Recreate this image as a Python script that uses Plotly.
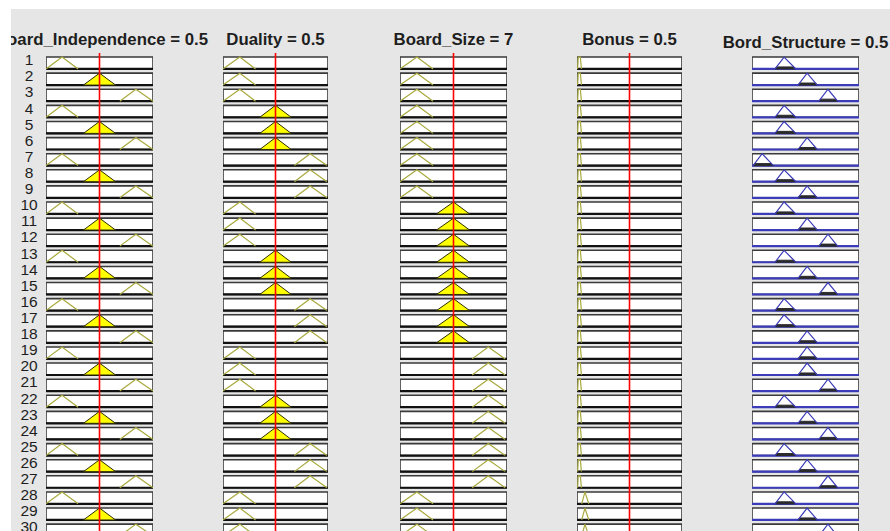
import plotly.graph_objects as go

W, H = 890, 531

# ---------------- data ----------------
rows = list(range(1, 31))

var_names = ["Board_Independence", "Duality", "Board_Size", "Bonus", "Bord_Structure"]
var_values = [0.5, 0.5, 7, 0.5, 0.5]
var_ranges = [[0, 1], [0, 1], [4, 10], [0, 1], [0, 1]]

# membership functions: 3 points = triangle, 4 points = trapezoid
bi_mfs = {"low": [0.0, 0.15, 0.3], "med": [0.35, 0.5, 0.65], "high": [0.69, 0.84, 1.0]}
du_mfs = {"low": [0.0, 0.16, 0.31], "med": [0.35, 0.5, 0.65], "high": [0.68, 0.83, 0.99]}
bs_mfs = {"low": [4.0, 4.95, 5.85], "med": [6.05, 7.0, 7.9], "high": [8.05, 8.95, 9.9]}
bo_mfs = {"small": [0.006, 0.012, 0.032, 0.042], "large": [0.045, 0.076, 0.112]}
st_mfs = {"Z": [0.01, 0.095, 0.2], "A": [0.215, 0.3, 0.41], "B": [0.43, 0.515, 0.61], "C": [0.625, 0.71, 0.8]}

rule_bi = ["low", "med", "high", "low", "med", "high", "low", "med", "high", "low",
           "med", "high", "low", "med", "high", "low", "med", "high", "low", "med",
           "high", "low", "med", "high", "low", "med", "high", "low", "med", "high"]
rule_du = ["low", "low", "low", "med", "med", "med", "high", "high", "high", "low",
           "low", "low", "med", "med", "med", "high", "high", "high", "low", "low",
           "low", "med", "med", "med", "high", "high", "high", "low", "low", "low"]
rule_bs = ["low", "low", "low", "low", "low", "low", "low", "low", "low", "med",
           "med", "med", "med", "med", "med", "med", "med", "med", "high", "high",
           "high", "high", "high", "high", "high", "high", "high", "low", "low", "low"]
rule_bo = ["small"] * 27 + ["large", "large", "large"]
rule_st = ["A", "B", "C", "A", "A", "B", "Z", "A", "B", "A",
           "B", "C", "A", "B", "C", "A", "A", "B", "B", "B",
           "C", "A", "B", "C", "A", "B", "C", "A", "B", "C"]
output_fire_level = 0.17  # height of the dark implication area

columns = [(bi_mfs, rule_bi), (du_mfs, rule_du), (bs_mfs, rule_bs), (bo_mfs, rule_bo), (st_mfs, rule_st)]

# ---------------- layout geometry ----------------
col_px = [(46, 153), (223, 328), (400, 507), (577, 682), (752, 859)]
row1_px, row_step_px = 63.0, 16.107
half_h = 0.37


def row_of(py):
    return 1 + (py - row1_px) / row_step_px


OLIVE = "#a9a93e"
YELLOW = "#ffff00"
BLUE = "#3c3cb8"
RED = "#ff0000"
BG = "#e6e6e6"


def mf_val(p, x):
    if len(p) == 3:
        a, b, c = p
        if x <= a or x >= c:
            return 1.0 if x == b else 0.0
        return (x - a) / (b - a) if x <= b else (c - x) / (c - b)
    a, b, c, d = p
    if x <= a or x >= d:
        return 0.0
    if x < b:
        return (x - a) / (b - a)
    if x <= c:
        return 1.0
    return (d - x) / (d - c)


def mf_outline(p):
    if len(p) == 3:
        return [p[0], p[1], p[2]], [0, 1, 0]
    return [p[0], p[1], p[2], p[3]], [0, 1, 1, 0]


def clipped_poly(p, lvl):
    if len(p) == 3:
        a, b, c = p
        xl = a + lvl * (b - a)
        xr = c - lvl * (c - b)
        return [a, xl, xr, c, a], [0, lvl, lvl, 0, 0]
    a, b, c, d = p
    xl = a + lvl * (b - a)
    xr = d - lvl * (d - c)
    return [a, xl, xr, d, a], [0, lvl, lvl, 0, 0]


def ymap(k, mu):
    return k + half_h - 2 * half_h * mu


fig = go.Figure()
shapes = [dict(type="rect", xref="paper", yref="paper", x0=11 / W, x1=1, y0=0, y1=1 - 9 / H,
               fillcolor=BG, line=dict(width=0), layer="below")]

layout_axes = {}
for ci, (mfs, rule) in enumerate(columns):
    xa = "x" if ci == 0 else f"x{ci + 1}"
    lo, hi = var_ranges[ci]
    l, r = col_px[ci]
    layout_axes["xaxis" if ci == 0 else f"xaxis{ci + 1}"] = dict(
        domain=[l / W, r / W], range=[lo, hi], visible=False, anchor="y", fixedrange=True)
    is_output = ci == 4

    for k in rows:
        shapes.append(dict(type="rect", xref=xa, yref="y", x0=lo, x1=hi,
                           y0=k - half_h, y1=k + half_h, fillcolor="white",
                           line=dict(color="#3a3a3a", width=1.6), layer="below"))

    fx, fy, ox, oy = [], [], [], []
    for k, name in zip(rows, rule):
        p = mfs[name]
        if is_output:
            lvl = output_fire_level
        else:
            lvl = mf_val(p, var_values[ci])
        if lvl > 0:
            if lvl < 1:
                px_, py_ = clipped_poly(p, lvl)
            else:
                xs, ys = mf_outline(p)
                px_, py_ = xs + [p[0]], ys + [0]
            fx += px_ + [None]
            fy += [ymap(k, v) for v in py_] + [None]
        if is_output or lvl == 0:
            xs, ys = mf_outline(p)
            ox += xs + [None]
            oy += [ymap(k, v) for v in ys] + [None]

    # baseline of each box
    bx, by = [], []
    for k in rows:
        bx += [lo, hi, None]
        by += [k + half_h, k + half_h, None]
    fig.add_trace(go.Scatter(x=bx, y=by, xaxis=xa, yaxis="y", mode="lines",
                             line=dict(color=BLUE if is_output else "#111111", width=2.2),
                             hoverinfo="skip", showlegend=False))
    if fx:
        fig.add_trace(go.Scatter(x=fx, y=fy, xaxis=xa, yaxis="y", mode="lines", fill="toself",
                                 fillcolor="#2a2a2a" if is_output else YELLOW,
                                 line=dict(color="#2a2a2a" if is_output else "#2e2e00", width=1),
                                 hoverinfo="skip", showlegend=False))
    if ox:
        fig.add_trace(go.Scatter(x=ox, y=oy, xaxis=xa, yaxis="y", mode="lines",
                                 line=dict(color=BLUE if is_output else OLIVE, width=1.2),
                                 hoverinfo="skip", showlegend=False))
    if not is_output:
        v = var_values[ci]
        fig.add_trace(go.Scatter(x=[v, v], y=[row_of(53), row_of(545)], xaxis=xa, yaxis="y",
                                 mode="lines", line=dict(color=RED, width=1.6),
                                 hoverinfo="skip", showlegend=False))

# titles and row numbers on an overlay axis clipped to the grey panel
titles = [f"{n} = {v}" for n, v in zip(var_names, var_values)]
title_x = [(l + r) / 2 / W for l, r in col_px]
title_x[0] += 2 / W
title_y = [row_of(40.5)] * 4 + [row_of(43.5)]
fig.add_trace(go.Scatter(x=title_x, y=title_y, xaxis="x6", yaxis="y", mode="text",
                         text=[f"<b>{t}</b>" for t in titles],
                         textfont=dict(family="Liberation Sans, Arial, sans-serif", size=16.8, color="#1e1e1e"),
                         cliponaxis=True, hoverinfo="skip", showlegend=False))
fig.add_trace(go.Scatter(x=[29 / W] * len(rows), y=[k - 0.1 for k in rows], xaxis="x6", yaxis="y",
                         mode="text", text=[str(k) for k in rows],
                         textfont=dict(family="Liberation Sans, Arial, sans-serif", size=15.5, color="#1e1e1e"),
                         cliponaxis=True, hoverinfo="skip", showlegend=False))

layout_axes["xaxis6"] = dict(domain=[11 / W, 1], range=[11 / W, 1], visible=False, anchor="y",
                             fixedrange=True)

fig.update_layout(
    width=W, height=H, autosize=False,
    margin=dict(l=0, r=0, t=0, b=0, pad=0),
    paper_bgcolor="white", plot_bgcolor="rgba(0,0,0,0)",
    showlegend=False,
    yaxis=dict(domain=[0, 1], range=[row_of(H), row_of(0)], visible=False, fixedrange=True, anchor="x"),
    shapes=shapes,
    **layout_axes,
)

fig.write_html("out.html", config={"displayModeBar": False},
               post_script="document.body.style.margin='0';document.body.style.padding='0';")
